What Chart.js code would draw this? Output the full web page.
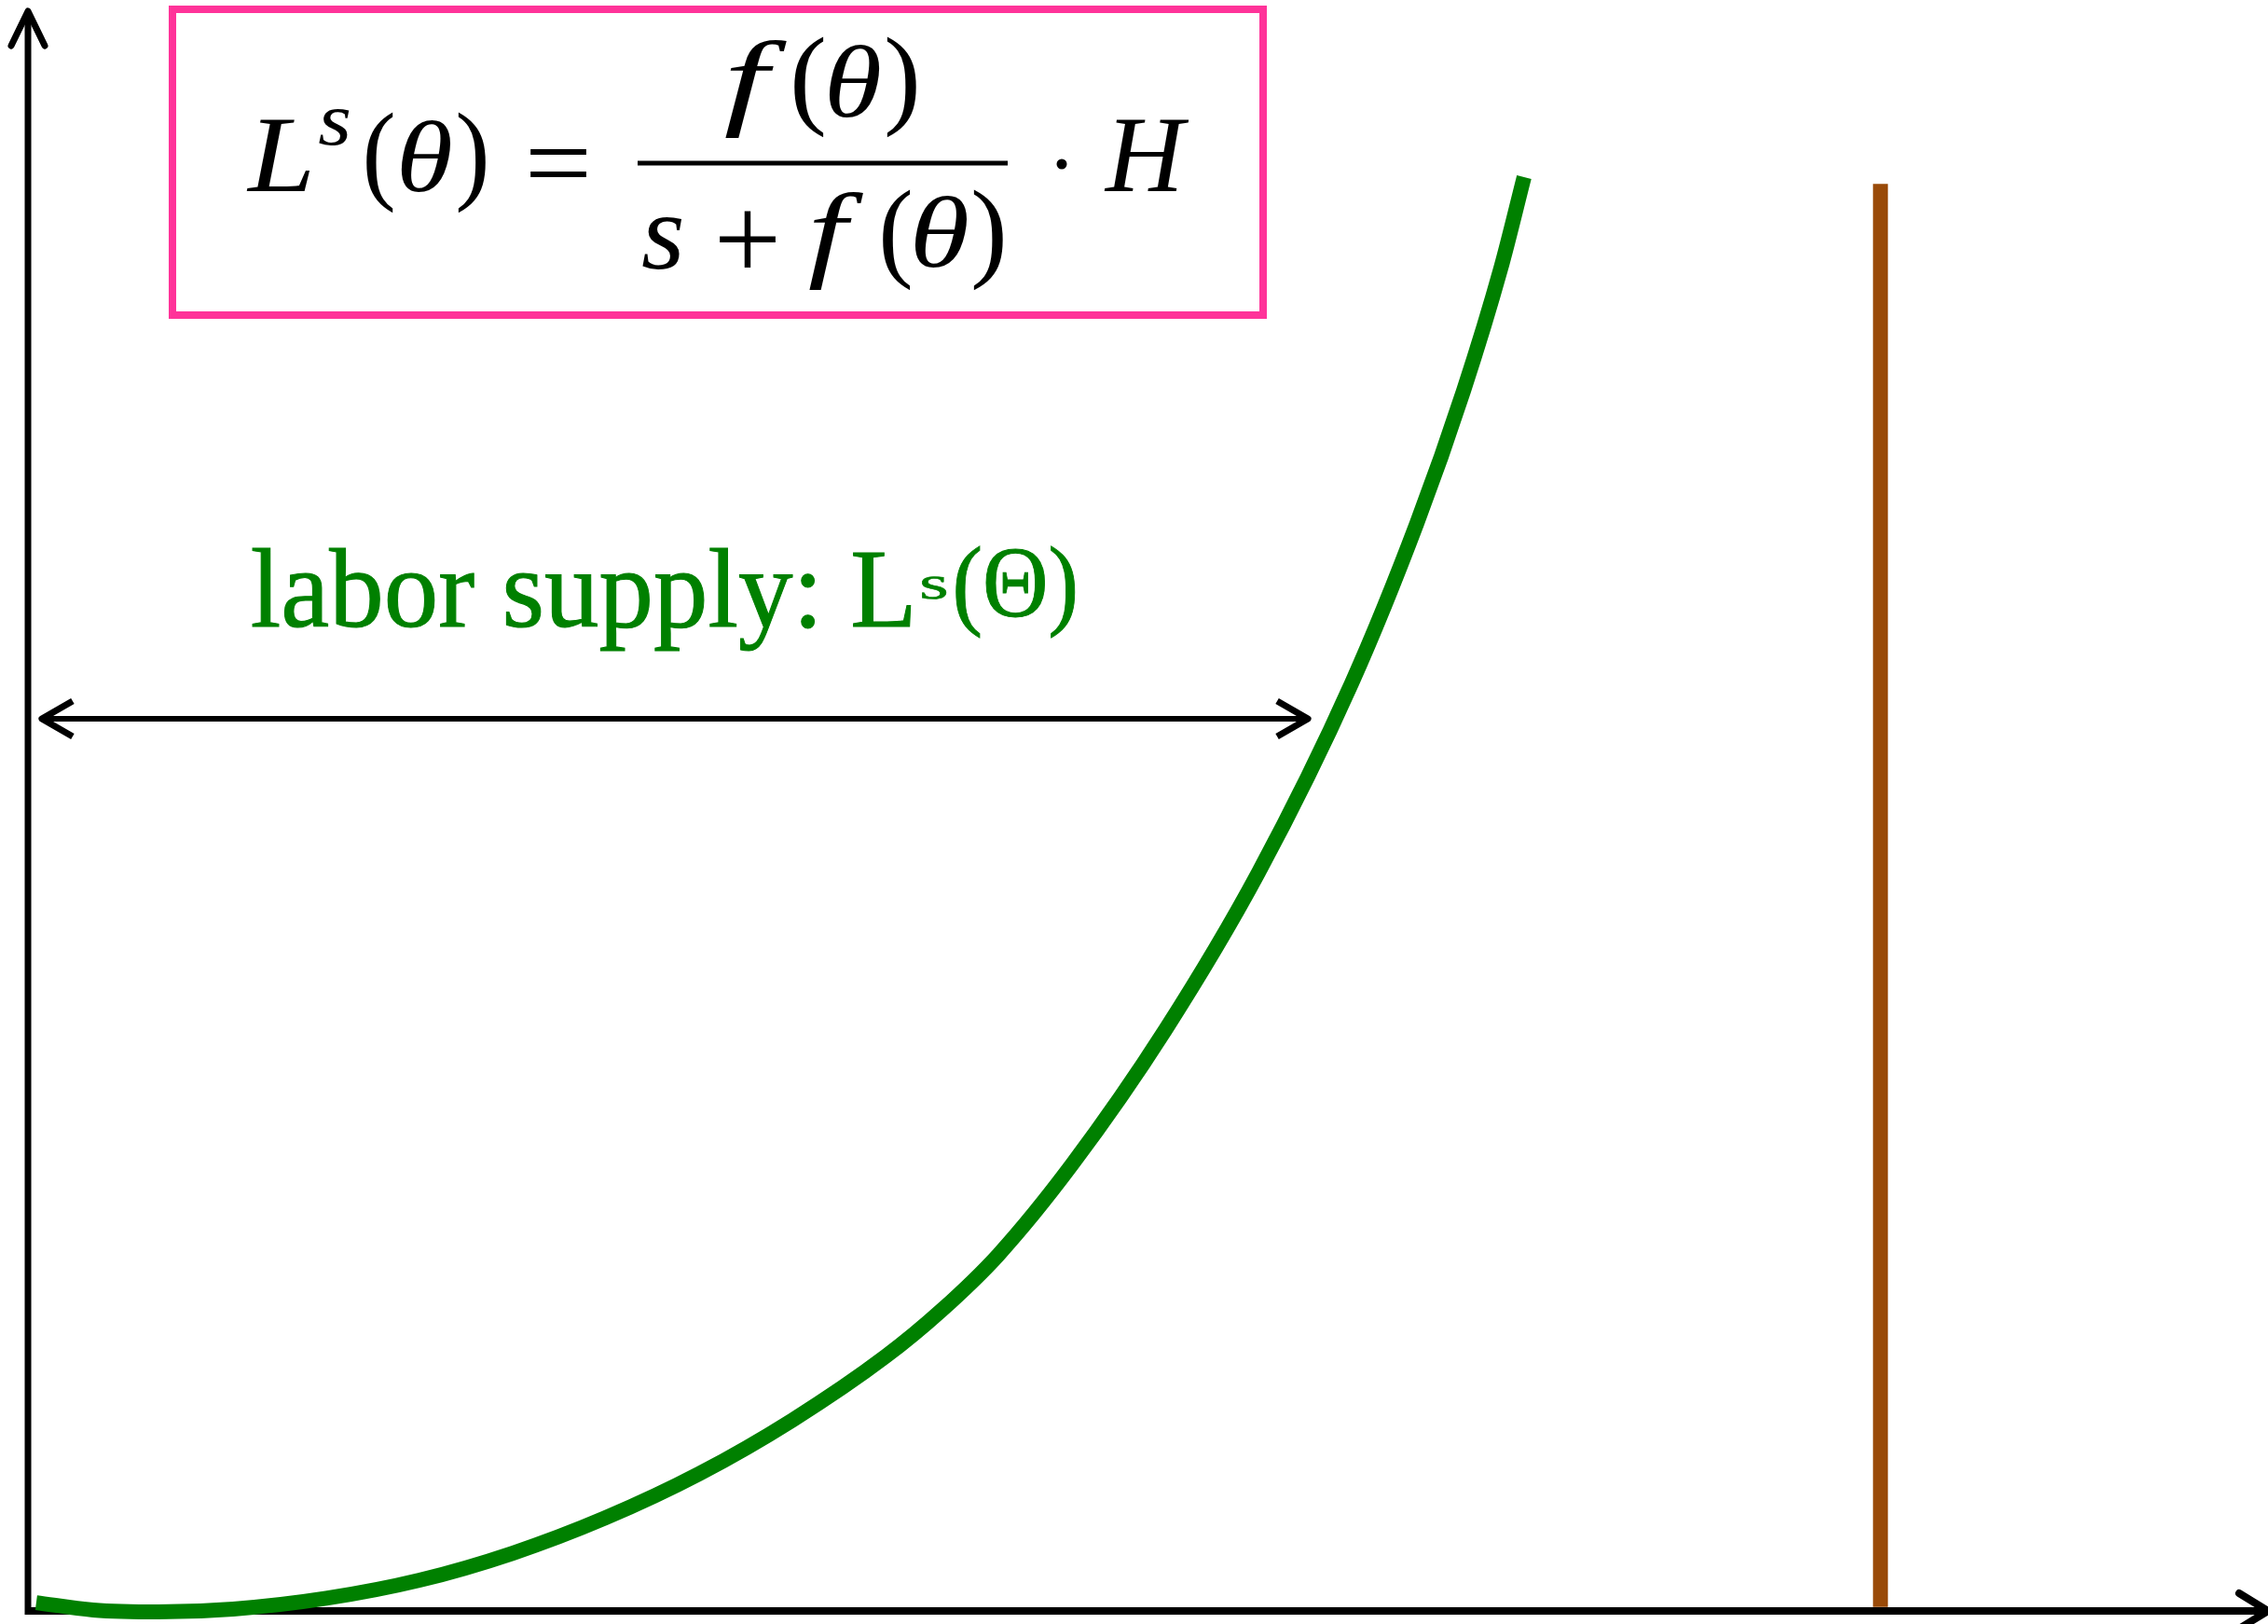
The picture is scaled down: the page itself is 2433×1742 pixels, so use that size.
<!DOCTYPE html>
<html>
<head>
<meta charset="utf-8">
<script src="https://cdn.jsdelivr.net/npm/chart.js@4.4.1/dist/chart.umd.min.js"></script>
<style>
  html, body { margin: 0; padding: 0; background: #fff; overflow: hidden; }
  #wrap { width: 2433px; height: 1742px; }
</style>
</head>
<body>
<div id="wrap"><canvas id="laborChart" width="2433" height="1742"></canvas></div>
<script>
// Courbe d'offre de travail L^s(theta)
const thetaVals = [0.37, 2.91, 5.83, 9.16, 13.32, 17.48, 21.64, 25.80, 29.96, 34.12, 38.29,
  40.78, 43.32, 46.61, 50.77, 54.93, 59.09, 62.01, 64.09, 65.75, 66.79];
const laborVals = [0.52, 0.06, -0.06, 0.12, 0.79, 1.92, 3.61, 5.83, 8.57, 11.92, 15.91,
  18.79, 22.26, 27.91, 36.31, 46.15, 57.98, 68.01, 76.28, 83.92, 89.63];

// Ligne verticale H (marron)
const hTheta = [82.7, 82.7];
const hLevel = [0.25, 89.2];

// Flèche double horizontale
const spanTheta = [0.62, 57.14];
const spanLevel = [55.77, 55.77];

const toPoints = (xs, ys) => xs.map((x, i) => ({ x: x, y: ys[i] }));

// Dessine un texte ajusté dans une boîte (encre) x1..x2, y1..y2
function drawBox(ctx, text, font, x1, x2, y1, y2, stroke) {
  ctx.save();
  ctx.font = font;
  ctx.textAlign = "left";
  ctx.textBaseline = "alphabetic";
  const m = ctx.measureText(text);
  const w = m.actualBoundingBoxLeft + m.actualBoundingBoxRight;
  const h = m.actualBoundingBoxAscent + m.actualBoundingBoxDescent;
  ctx.translate(x1, y1);
  ctx.scale((x2 - x1) / w, (y2 - y1) / h);
  ctx.fillText(text, m.actualBoundingBoxLeft, m.actualBoundingBoxAscent);
  if (stroke) {
    ctx.lineWidth = stroke;
    ctx.strokeStyle = ctx.fillStyle;
    ctx.strokeText(text, m.actualBoundingBoxLeft, m.actualBoundingBoxAscent);
  }
  ctx.restore();
}

// Axes avec flèches (dessinés avant les courbes)
const axesPlugin = {
  id: "axes",
  beforeDatasetsDraw(chart) {
    const { ctx, chartArea, scales } = chart;
    const x0 = scales.x.getPixelForValue(0);
    const y0 = scales.y.getPixelForValue(0);
    ctx.save();
    ctx.strokeStyle = "#000";
    ctx.lineJoin = "round";
    // axe vertical
    ctx.lineWidth = 7;
    ctx.lineCap = "butt";
    ctx.beginPath();
    ctx.moveTo(x0, y0 + 4);
    ctx.lineTo(x0, chartArea.top + 4);
    ctx.stroke();
    ctx.lineCap = "round";
    ctx.beginPath();
    ctx.moveTo(x0 - 18, chartArea.top + 37);
    ctx.lineTo(x0, chartArea.top);
    ctx.lineTo(x0 + 18, chartArea.top + 37);
    ctx.stroke();
    // axe horizontal
    ctx.lineWidth = 8;
    ctx.lineCap = "butt";
    ctx.beginPath();
    ctx.moveTo(x0 - 3, y0);
    ctx.lineTo(chartArea.right - 4, y0);
    ctx.stroke();
    ctx.lineCap = "round";
    ctx.beginPath();
    ctx.moveTo(chartArea.right - 31, y0 - 19);
    ctx.lineTo(chartArea.right, y0);
    ctx.lineTo(chartArea.right - 31, y0 + 19);
    ctx.stroke();
    ctx.restore();
  },
  afterDatasetsDraw(chart) {
    // pointes de la flèche double
    const { ctx, scales } = chart;
    const xa = scales.x.getPixelForValue(spanTheta[0]);
    const xb = scales.x.getPixelForValue(spanTheta[1]);
    const ya = scales.y.getPixelForValue(spanLevel[0]);
    ctx.save();
    ctx.strokeStyle = "#000";
    ctx.lineWidth = 7;
    ctx.lineCap = "butt";
    ctx.lineJoin = "round";
    ctx.beginPath();
    ctx.moveTo(xa + 33, ya - 19);
    ctx.lineTo(xa, ya);
    ctx.lineTo(xa + 33, ya + 19);
    ctx.stroke();
    ctx.beginPath();
    ctx.moveTo(xb - 33, ya - 19);
    ctx.lineTo(xb, ya);
    ctx.lineTo(xb - 33, ya + 19);
    ctx.stroke();
    ctx.restore();
  }
};

// Textes : formule encadrée et étiquette verte
const textPlugin = {
  id: "texts",
  afterDraw(chart) {
    const ctx = chart.ctx;
    ctx.save();

    // cadre rose
    ctx.strokeStyle = "#FF3399";
    ctx.lineWidth = 8;
    ctx.strokeRect(185, 10, 1170, 328);

    // formule (chaque glyphe placé dans sa boîte)
    const it = 'italic 120px "Liberation Serif"';
    const rm = '120px "Liberation Serif"';
    const glyphs = [
      ["L", it, 264, 333, 128, 205],
      ["s", it, 342, 375, 117, 156],
      ["(", rm, 393, 422, 121, 229],
      ["θ", it, 430, 484, 128, 206],
      [")", rm, 491, 521, 121, 229],
      ["=", rm, 568, 629, 159, 190],
      ["f", it, 778, 845, 43, 149],
      ["(", rm, 852, 884, 39, 148],
      ["θ", it, 889, 944, 47, 126],
      [")", rm, 951, 983, 39, 148],
      ["s", it, 689, 732, 233, 289],
      ["+", rm, 771, 832, 227, 287],
      ["f", it, 868, 927, 207, 312],
      ["(", rm, 947, 977, 203, 312],
      ["θ", it, 981, 1038, 210, 287],
      [")", rm, 1044, 1076, 203, 312],
      ["H", it, 1184, 1276, 128, 205]
    ];
    ctx.fillStyle = "#000";
    glyphs.forEach(([t, font, x1, x2, y1, y2]) => drawBox(ctx, t, font, x1, x2, y1, y2));
    // barre de fraction
    ctx.strokeStyle = "#000";
    ctx.lineWidth = 5;
    ctx.beginPath();
    ctx.moveTo(684, 175);
    ctx.lineTo(1081, 175);
    ctx.stroke();
    // point de multiplication
    ctx.beginPath();
    ctx.arc(1139, 176, 5.5, 0, Math.PI * 2);
    ctx.fill();

    // étiquette verte
    ctx.fillStyle = "#008000";
    const lf = '110px "Liberation Serif"';
    drawBox(ctx, "labor supply: L", lf, 271, 977, 588, 697, 1);
    drawBox(ctx, "s", lf, 989, 1015, 618, 642, 1);
    drawBox(ctx, "(Θ)", lf, 1025, 1153, 585, 685, 1);
    ctx.restore();
  }
};

const laborCtx = document.getElementById("laborChart").getContext("2d");

const config = {
  type: "scatter",
  data: {
    datasets: [
      {
        label: "labor supply",
        data: toPoints(thetaVals, laborVals),
        showLine: true,
        borderColor: "#008000",
        borderWidth: 16,
        borderCapStyle: "butt",
        pointRadius: 0,
        cubicInterpolationMode: "monotone",
        clip: false
      },
      {
        label: "H",
        data: toPoints(hTheta, hLevel),
        showLine: true,
        borderColor: "#994A08",
        borderWidth: 16,
        borderCapStyle: "butt",
        pointRadius: 0,
        clip: false
      },
      {
        label: "span",
        data: toPoints(spanTheta, spanLevel),
        showLine: true,
        borderColor: "#000",
        borderWidth: 6,
        borderCapStyle: "butt",
        pointRadius: 0,
        clip: false
      }
    ]
  },
  options: {
    responsive: false,
    animation: false,
    devicePixelRatio: 1,
    layout: { padding: { left: 30, right: 0, top: 12, bottom: 14 } },
    scales: {
      x: { type: "linear", min: 0, max: 100, display: false },
      y: { type: "linear", min: 0, max: 100, display: false }
    },
    plugins: {
      legend: { display: false },
      tooltip: { enabled: false }
    }
  },
  plugins: [axesPlugin, textPlugin]
};

new Chart(laborCtx, config);
</script>
</body>
</html>
